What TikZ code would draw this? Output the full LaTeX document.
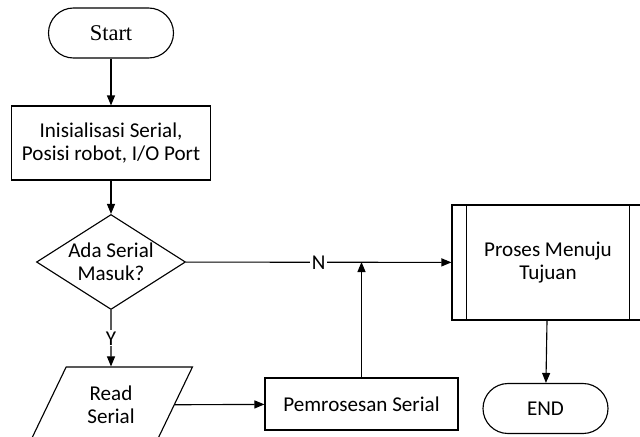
\documentclass[tikz,border=0pt]{standalone}
\usepackage{fontspec}
\setmainfont{Carlito}
\newfontfamily\timesfont{Liberation Serif}
\usetikzlibrary{shapes.geometric,arrows.meta,calc}
\tikzset{
    every node/.style={font=\fontsize{15}{16.4}\selectfont},
    terminal/.style={draw, rectangle, rounded corners=6.25mm, minimum width=31.25mm, minimum height=12.5mm},
    process/.style={draw, rectangle, align=center, inner sep=0pt},
    decision/.style={draw, diamond, aspect=1.57, minimum width=37.25mm, minimum height=23.75mm, inner sep=0pt, align=center},
    io/.style={draw, trapezium, trapezium left angle=63, trapezium right angle=117, trapezium stretches=true, minimum width=40.9mm, minimum height=19mm, inner sep=0pt, align=center},
    flow/.style={-{Triangle[length=2.5mm,width=2mm]}},
    tag/.style={fill=white, inner sep=1pt},
}

\begin{document}
\begin{tikzpicture}[x=0.25mm,y=-0.25mm,line width=0.8pt]
		\useasboundingbox (0,0) rectangle (640,436);
		\clip (0,0) rectangle (640,436);
		\node[terminal] (start) at (111,33) {\timesfont\fontsize{16}{18}\selectfont Start};
		\node[process, minimum width=49.75mm, minimum height=18.5mm] (init) at (111,143) {Inisialisasi Serial,\\Posisi robot, I/O Port};
		\node[decision] (cek) at (111,262) {Ada Serial\\Masuk?};
		\node[io] (baca) at (111,405) {Read\\Serial};
		\node[process, minimum width=48.25mm, minimum height=13mm] (olah) at (361.5,404) {Pemrosesan Serial};
		\node[process, minimum width=48mm, minimum height=28.75mm] (tuju) at (548,262.5) {Proses Menuju\\Tujuan};
		\draw ($(tuju.north west)+(3.75mm,0)$) -- ($(tuju.south west)+(3.75mm,0)$);
		\draw ($(tuju.north east)-(3.75mm,0)$) -- ($(tuju.south east)-(3.75mm,0)$);
		\node[terminal] (selesai) at (545.5,408.5) {END};
		\coordinate (temu) at (361.5,262);

		\draw[flow] (start) -- (init);
		\draw[flow] (init) -- (cek);
		\draw[flow] (cek) -- node[tag] {Y} (baca);
		\draw[flow] (cek) -- node[tag] {N} (tuju);
		\draw[flow] (baca) -- (olah);
		\draw[flow] (olah) -- (temu);
		\draw[flow] (tuju) -- (selesai);
	\end{tikzpicture}
\end{document}
